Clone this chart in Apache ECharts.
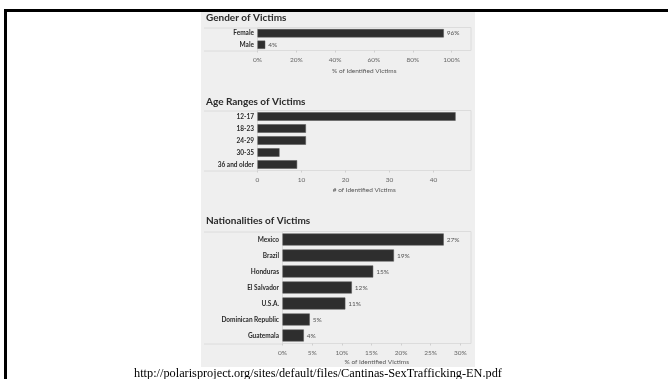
<!DOCTYPE html>
<html>
<head>
<meta charset="utf-8">
<script src="https://cdn.jsdelivr.net/npm/echarts@6/dist/echarts.min.js"></script>
<style>
  html, body { margin: 0; padding: 0; background: #fff; }
  #chart { width: 668px; height: 379px; }
</style>
</head>
<body>
<div id="chart"></div>
<script>
const genderCats = ['Female', 'Male'];
const genderVals = [96, 4];
const ageCats = ['12-17', '18-23', '24-29', '30-35', '36 and older'];
const ageVals = [45, 11, 11, 5, 9];
const nationCats = ['Mexico', 'Brazil', 'Honduras', 'El Salvador', 'U.S.A.', 'Dominican Republic', 'Guatemala'];
const nationVals = [27.2, 18.8, 15.3, 11.7, 10.6, 4.6, 3.6];
const titles = ['Gender of Victims', 'Age Ranges of Victims', 'Nationalities of Victims'];
const axisNames = ['% of Identified Victims', '# of Identified Victims', '% of Identified Victims'];
const sourceUrl = 'http://polarisproject.org/sites/default/files/Cantinas-SexTrafficking-EN.pdf';

const FONT = 'Lato, "Open Sans", sans-serif';
const PANE_RIGHT = 471;
const ROW_LEFT = 204;

// one block per small chart
const panes = [
  { cats: genderCats, vals: genderVals, left: 257.5, top: 27.5, height: 23, max: 110, interval: 20, pct: true, bar: '72%', titleTop: 12.5, nameGap: 16.5, labels: true },
  { cats: ageCats, vals: ageVals, left: 257.5, top: 110.5, height: 60, max: 48.5, interval: 10, pct: false, bar: '71%', titleTop: 97, nameGap: 16.3, labels: false },
  { cats: nationCats, vals: nationVals, left: 282.5, top: 231.5, height: 112, max: 31.8, interval: 5, pct: true, bar: '75%', titleTop: 216, nameGap: 15, labels: true }
];

const chart = echarts.init(document.getElementById('chart'), null, { renderer: 'canvas' });

const grids = panes.map(p => ({
  left: p.left,
  right: 668 - PANE_RIGHT,
  top: p.top,
  height: p.height,
  show: true,
  borderColor: '#dcdcdc',
  borderWidth: 1,
  backgroundColor: 'transparent'
}));

const xAxes = panes.map((p, i) => ({
  type: 'value',
  gridIndex: i,
  min: 0,
  max: p.max,
  interval: p.interval,
  name: axisNames[i],
  nameLocation: 'middle',
  nameGap: p.nameGap,
  nameTextStyle: { fontFamily: FONT, fontSize: 6.5, color: '#555' },
  axisLine: { show: false },
  axisTick: { show: true, length: 2, lineStyle: { color: '#cfcfcf' } },
  splitLine: { show: false },
  axisLabel: {
    fontFamily: FONT,
    fontSize: 6.5,
    color: '#666',
    margin: 5.5,
    showMaxLabel: false,
    formatter: v => (v % p.interval === 0 ? (p.pct ? v + '%' : String(v)) : '')
  }
}));

const yAxes = panes.map((p, i) => ({
  type: 'category',
  gridIndex: i,
  data: p.cats,
  inverse: true,
  axisLine: { show: false },
  axisTick: { show: false },
  splitLine: { show: false },
  axisLabel: { fontFamily: FONT, fontSize: 6.5, fontWeight: 'bold', color: '#2a2a2a', margin: 3.5 }
}));

const series = panes.map((p, i) => ({
  type: 'bar',
  xAxisIndex: i,
  yAxisIndex: i,
  data: p.vals,
  barWidth: p.bar,
  itemStyle: { color: '#2e2e2e', borderColor: '#555', borderWidth: 0.5 },
  label: {
    show: p.labels,
    position: 'right',
    distance: 3,
    fontFamily: FONT,
    fontSize: 6.5,
    color: '#555',
    formatter: d => Math.round(d.value) + '%'
  }
}));

const titleOpts = panes.map((p, i) => ({
  text: titles[i],
  left: 206,
  top: p.titleTop,
  padding: 0,
  textStyle: { fontFamily: FONT, fontSize: 10, fontWeight: 'bold', color: '#2a2a2a' }
}));

// row header lines continue the pane borders to the left
const rowLines = [];
panes.forEach(p => {
  [p.top, p.top + p.height].forEach(y => {
    rowLines.push({
      type: 'line',
      shape: { x1: ROW_LEFT, y1: y + 0.5, x2: p.left, y2: y + 0.5 },
      style: { stroke: '#dcdcdc', lineWidth: 1 },
      silent: true
    });
  });
});

chart.setOption({
  animation: false,
  title: titleOpts,
  grid: grids,
  xAxis: xAxes,
  yAxis: yAxes,
  series: series,
  graphic: [
    { type: 'rect', shape: { x: 201, y: 12, width: 274, height: 355 }, style: { fill: '#efefef' }, z: -10, silent: true },
    { type: 'rect', shape: { x: 4, y: 9, width: 664, height: 3 }, style: { fill: '#000' }, silent: true },
    { type: 'rect', shape: { x: 4, y: 9, width: 3, height: 370 }, style: { fill: '#000' }, silent: true },
    ...rowLines,
    {
      type: 'text',
      x: 318,
      y: 373.5,
      style: {
        text: sourceUrl,
        font: '12.3px "Liberation Serif", serif',
        fill: '#000',
        textAlign: 'center',
        textVerticalAlign: 'middle'
      },
      silent: true
    }
  ]
});

window.addEventListener('resize', () => chart.resize());
</script>
</body>
</html>
